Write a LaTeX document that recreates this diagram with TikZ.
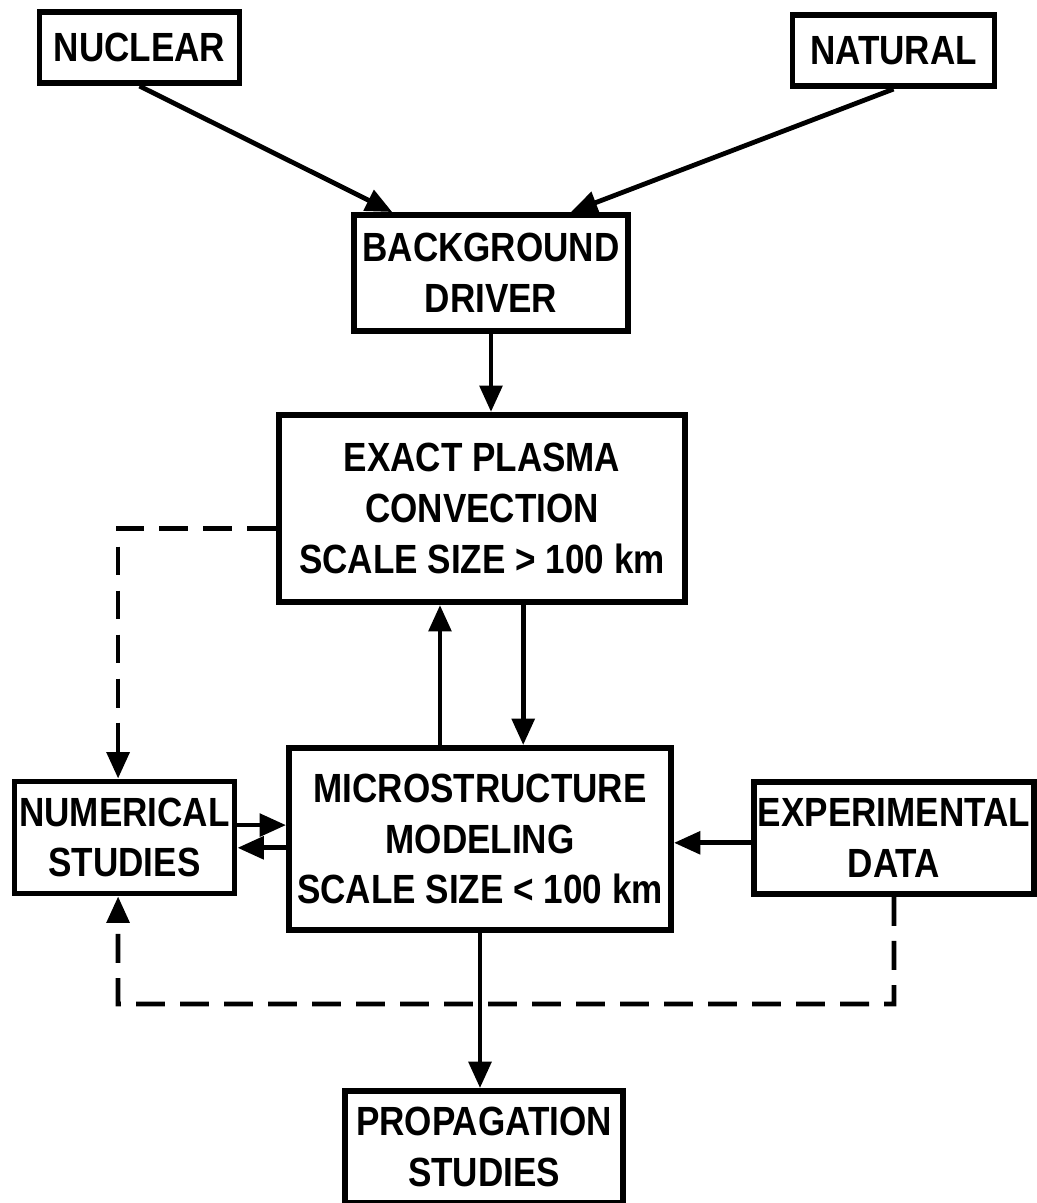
\documentclass[tikz,border=0pt]{standalone}
\usepackage{fontspec}
\setmainfont{Liberation Sans}[FakeStretch=0.86]
\usepackage{tikz}
\usetikzlibrary{arrows.meta, positioning, calc}

\begin{document}
\begin{tikzpicture}[
  x=0.025cm, y=-0.025cm,
  font=\bfseries\fontsize{29}{36}\selectfont,
  box/.style={draw=black, line width=4.2pt, align=center, inner sep=1mm},
  ar/.style={-{Triangle[length=0.66cm,width=0.56cm]}, line width=3.4pt},
  dashar/.style={ar, dash pattern=on 0.72cm off 0.38cm}
]
  \useasboundingbox (0,0) rectangle (1037,1203);

  % sources at the top
  \node[box, minimum width=5.0cm, minimum height=1.78cm] (nuclear) at (139.5,47.5) {NUCLEAR};
  \node[box, minimum width=5.05cm, minimum height=1.78cm] (natural) at (893.5,50.5) {NATURAL};
  \node[box, minimum width=6.85cm, minimum height=2.9cm] (driver) at (491,273) {BACKGROUND\\DRIVER};

  % the two scales
  \node[box, minimum width=10.15cm, minimum height=4.68cm] (exact) at (482,508.5)
      {EXACT PLASMA\\CONVECTION\\SCALE SIZE > 100 km};
  \node[box, minimum width=9.55cm, minimum height=4.55cm] (micro) at (480,839)
      {MICROSTRUCTURE\\MODELING\\SCALE SIZE < 100 km};

  % side boxes and output
  \node[box, minimum width=5.5cm, minimum height=2.8cm] (numerical) at (124.5,837.5) {NUMERICAL\\STUDIES};
  \node[box, minimum width=6.95cm, minimum height=2.8cm] (experimental) at (894,838) {EXPERIMENTAL\\DATA};
  \node[box, minimum width=6.95cm, minimum height=2.8cm] (propagation) at (484,1147) {PROPAGATION\\STUDIES};
  \coordinate (loopcorner) at (118,1004);

  \draw[ar] (nuclear.south) -- ([xshift=1.03cm]driver.north west);
  \draw[ar] (natural.south) -- ([xshift=-1.5cm]driver.north east);
  \draw[ar] (driver.south) -- (driver.south |- exact.north);

  \draw[ar] ([xshift=1.03cm]exact.south) -- ([xshift=1.03cm]exact.south |- micro.north);
  \draw[ar] ([xshift=-1.0cm]micro.north) -- ([xshift=-1.0cm]micro.north |- exact.south);

  \draw[ar] ([yshift=0.31cm]numerical.east) -- ([yshift=0.31cm]numerical.east -| micro.west);
  \draw[ar] ([yshift=-0.22cm]micro.west) -- ([yshift=-0.22cm]micro.west -| numerical.east);
  \draw[ar] ([yshift=-0.12cm]experimental.west) -- ([yshift=-0.12cm]experimental.west -| micro.east);
  \draw[ar] (micro.south) -- (micro.south |- propagation.north);

  % dashed feedback paths
  \draw[dashar] ([yshift=-0.5cm]exact.west) -| ([xshift=-0.16cm]numerical.north);
  \draw[dashar] (experimental.south) |- (loopcorner) -- ([xshift=-0.16cm]numerical.south);
\end{tikzpicture}
\end{document}
